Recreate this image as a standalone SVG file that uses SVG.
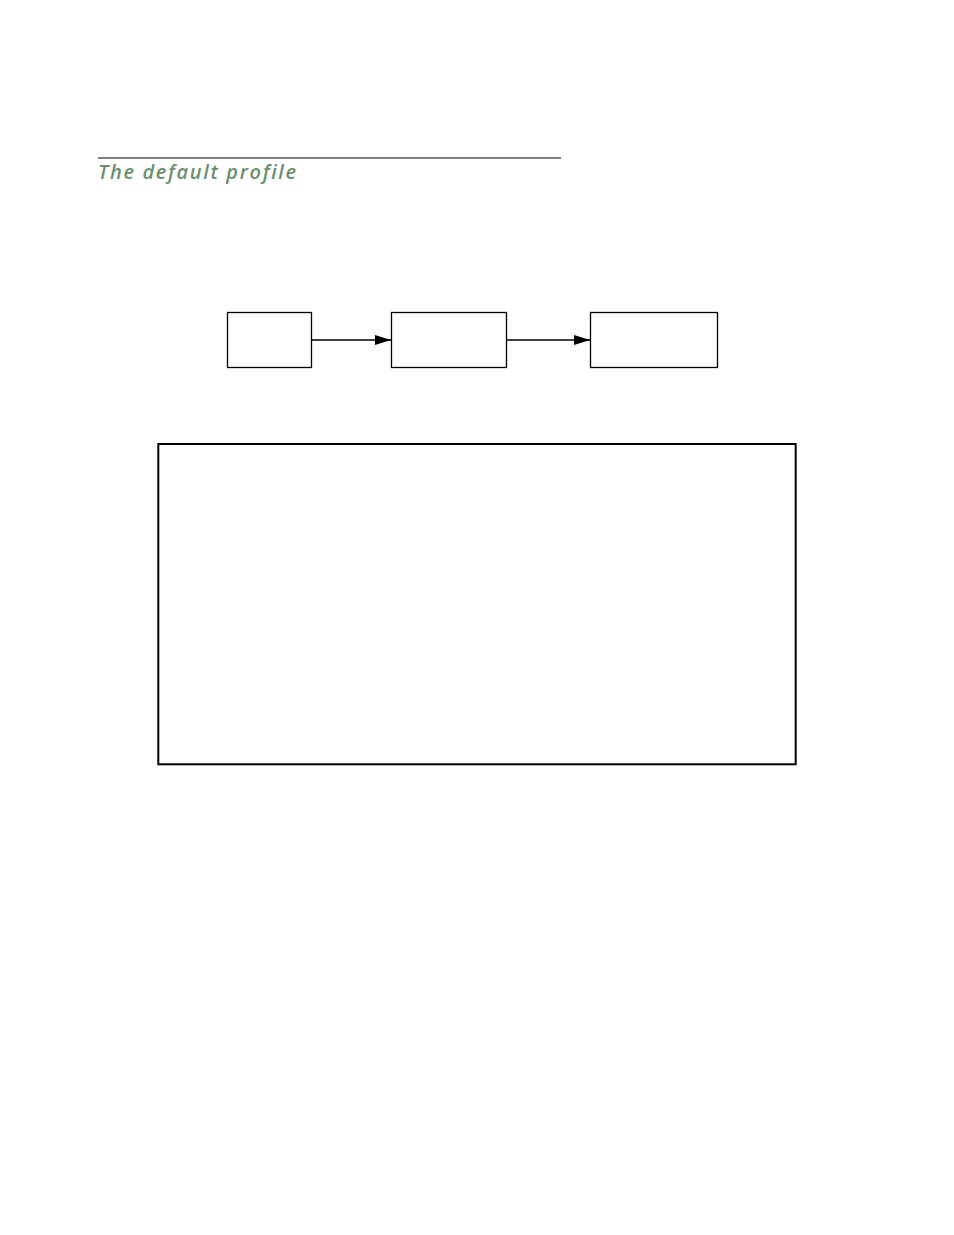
<svg xmlns="http://www.w3.org/2000/svg" width="954" height="1235" viewBox="0 0 954 1235">
<defs>
<style>
.node{fill:#ffffff;stroke:#000000;stroke-width:1.3}
.conn{stroke:#000000;stroke-width:1.3;fill:none}
.title{font-family:"Open Sans","Liberation Sans",sans-serif;font-style:italic;font-weight:600;font-size:20px;fill:#6b8f6e;letter-spacing:2px}
</style>
<marker id="arrow" viewBox="0 0 16 10" refX="16" refY="5" markerWidth="16" markerHeight="10" markerUnits="userSpaceOnUse" orient="auto">
<path d="M0,0 L16,5 L0,10 Z" fill="#000000"/>
</marker>
</defs>
<rect width="954" height="1235" fill="#ffffff"/>
<line x1="98" y1="158" x2="561" y2="158" stroke="#000000" stroke-width="1.2"/>
<text class="title" x="98" y="179" textLength="200" lengthAdjust="spacing">The default profile</text>
<g id="node1"><rect class="node" x="227.5" y="312.5" width="84" height="55"/></g>
<g id="node2"><rect class="node" x="391.5" y="312.5" width="115" height="55"/></g>
<g id="node3"><rect class="node" x="590.5" y="312.5" width="127" height="55"/></g>
<g id="connectors">
<line class="conn" x1="311.5" y1="340" x2="391" y2="340" marker-end="url(#arrow)"/>
<line class="conn" x1="506.5" y1="340" x2="590" y2="340" marker-end="url(#arrow)"/>
</g>
<g id="panel"><rect x="158.3" y="444" width="637.4" height="320.3" fill="none" stroke="#000000" stroke-width="2"/></g>
</svg>
